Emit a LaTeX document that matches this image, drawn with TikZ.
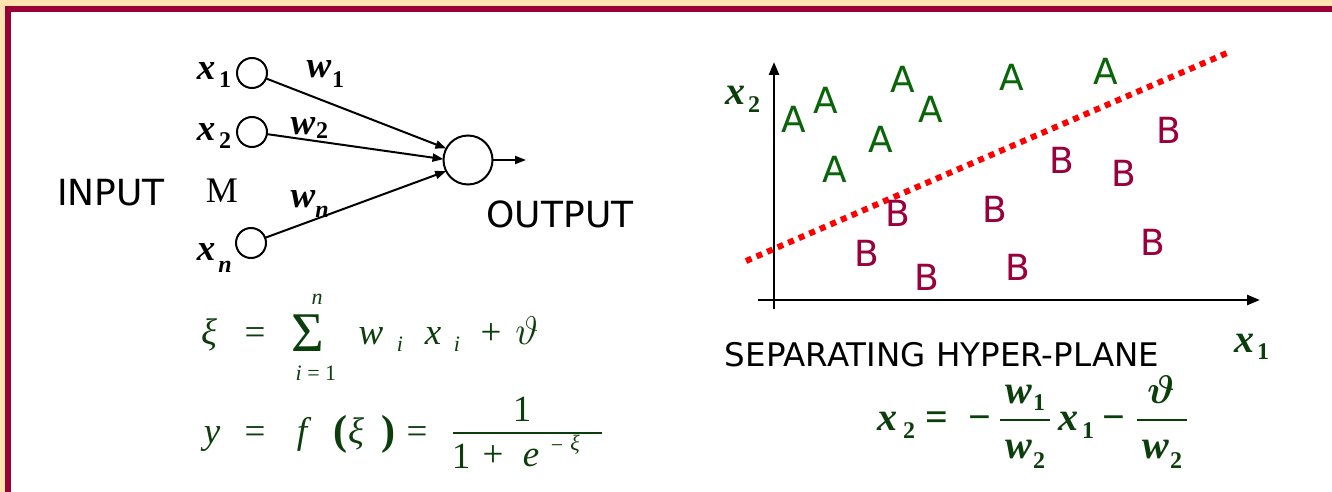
\RequirePackage{fix-cm}
\documentclass[tikz,border=0pt]{standalone}
\usepackage{fontspec}
\setmainfont{Liberation Serif}
\newfontfamily\dvs{DejaVu Sans}
\usetikzlibrary{arrows.meta}
\definecolor{beige}{RGB}{255,228,178}
\definecolor{frame}{RGB}{153,0,51}
\definecolor{agreen}{RGB}{10,100,10}
\definecolor{bred}{RGB}{153,0,60}
\definecolor{eqgreen}{RGB}{12,62,12}
\newcommand\myfs[1]{\fontsize{#1}{#1}\selectfont}
\begin{document}
\begin{tikzpicture}[x=1pt,y=-1pt,
  every node/.style={inner sep=0pt, outer sep=0pt},
  neuron/.style={circle, draw=black, line width=2pt, minimum size=30pt},
  conn/.style={line width=2pt, -{Triangle[length=11pt,width=8pt]}},
  axis/.style={line width=2.5pt, -{Triangle[length=13pt,width=10pt]}},
  lbx/.style={anchor=base, font=\bfseries\itshape\myfs{37}},
  lbs/.style={anchor=base, font=\bfseries\myfs{24}},
  lbsi/.style={anchor=base, font=\bfseries\itshape\myfs{24}},
  word/.style={anchor=base, font=\dvs\myfs{36}},
  ptA/.style={text=agreen, font=\dvs\myfs{36}},
  ptB/.style={text=bred, font=\dvs\myfs{36}},
  ei/.style={anchor=base, text=eqgreen, font=\itshape\myfs{37}},
  er/.style={anchor=base, text=eqgreen, font=\myfs{37}},
  esi/.style={anchor=base, text=eqgreen, font=\itshape\myfs{22}},
  esr/.style={anchor=base, text=eqgreen, font=\myfs{22}},
  par/.style={anchor=base, text=eqgreen, font=\bfseries\myfs{42}},
  bx/.style={anchor=base, text=eqgreen, font=\bfseries\itshape\myfs{40}},
  bs/.style={anchor=base, text=eqgreen, font=\bfseries\myfs{24}},
  br/.style={anchor=base, text=eqgreen, font=\bfseries\myfs{40}},
  bth/.style={anchor=base, text=eqgreen, font=\boldmath\myfs{40}},
  fbar/.style={draw=eqgreen, line width=1.6pt},
  sep/.style={draw=red, line width=6pt, dash pattern=on 6pt off 5.5pt}
]
\useasboundingbox (0,0) rectangle (1332,492);
% frame
\fill[beige] (0,0) rectangle (1332,492);
\fill[white] (11,12) rectangle (1332,492);
\fill[frame] (5,6) rectangle (1332,12);
\fill[frame] (5,6) rectangle (11,492);

% ---------- network ----------
\node[neuron] (in1) at (252,73) {};
\node[neuron] (in2) at (252,132) {};
\node[neuron] (inn) at (251,243) {};
\node[neuron, minimum size=49pt] (out) at (468,160) {};
\coordinate (outtip) at (526,160);
\draw[conn] (in1) -- (out.152);
\draw[conn] (in2) -- (out.178);
\draw[conn] (inn) -- (out.207);
\draw[conn] (out) -- (outtip);

\node[lbx] (x1x) at (206,80) {x};
\node[lbs] (x1s) at (225,88) {1};
\node[lbx] (x2x) at (206,140) {x};
\node[lbs] (x2s) at (225,148) {2};
\node[lbx] (xnx) at (206,260) {x};
\node[lbsi] (xns) at (225,272) {n};
\node[lbx] (w1x) at (319,78) {w};
\node[lbs] (w1s) at (338,88) {1};
\node[lbx] (w2x) at (303,135) {w};
\node[lbs] (w2s) at (322,139) {2};
\node[lbx] (wnx) at (303,207) {w};
\node[lbsi] (wns) at (322,217) {n};
\node[anchor=base, font=\myfs{36}] (dots) at (222,202) {M};
\node[word] (input) at (111,205) {INPUT};
\node[word] (output) at (560,227) {OUTPUT};

% ---------- formula 1 ----------
\node[ei] (a1) at (209,344) {ξ};
\node[er] (a2) at (255,344) {=};
\node[anchor=base, text=eqgreen, font=\myfs{56}] (a3) at (308,351) {Σ};
\node[esi] (a4) at (317,304) {n};
\node[esr] (a5) at (316,380) {\textit{i} = 1};
\node[ei] (a6) at (371,344) {w};
\node[esi] (a7) at (400,351) {i};
\node[ei] (a8) at (433,344) {x};
\node[esi] (a9) at (457,351) {i};
\node[er] (a10) at (491,344) {+};
\node[anchor=base, text=eqgreen, font=\myfs{40}] (a11) at (527,344) {$\vartheta$};

% ---------- formula 2 ----------
\node[ei] (b1) at (212,443) {y};
\node[er] (b2) at (255,443) {=};
\node[ei] (b3) at (302,443) {f};
\node[par] (b4) at (340,444) {(};
\node[ei] (b5) at (356,443) {ξ};
\node[par] (b6) at (388,444) {)};
\node[er] (b7) at (417,443) {=};
\node[er] (b8) at (522,421) {1};
\coordinate (b9l) at (453,433);
\coordinate (b9r) at (602,433);
\draw[fbar] (b9l) -- (b9r);
\node[er] (b10) at (461,468) {1};
\node[er] (b11) at (493,466) {+};
\node[ei] (b12) at (531,466) {e};
\node[esr] (b13) at (557,452) {−};
\node[esi] (b14) at (575,450) {ξ};

% ---------- scatter plot ----------
\coordinate (yb) at (774,309);
\coordinate (yt) at (774,62);
\coordinate (xb) at (758,300);
\coordinate (xt) at (1260,300);
\draw[axis] (yb) -- (yt);
\draw[axis] (xb) -- (xt);
\coordinate (sl) at (746,261);
\coordinate (sr) at (1227,53);
\draw[sep] (sl) -- (sr);

\node[ptA] (A1) at (794,119) {A};
\node[ptA] (A2) at (826,100) {A};
\node[ptA] (A3) at (903,79) {A};
\node[ptA] (A4) at (931,109) {A};
\node[ptA] (A5) at (881,139) {A};
\node[ptA] (A6) at (835,169) {A};
\node[ptA] (A7) at (1012,77) {A};
\node[ptA] (A8) at (1106,71) {A};
\node[ptB] (B1) at (1169,130) {B};
\node[ptB] (B2) at (1062,160) {B};
\node[ptB] (B3) at (1124,173) {B};
\node[ptB] (B4) at (898,213) {B};
\node[ptB] (B5) at (995,209) {B};
\node[ptB] (B6) at (867,253) {B};
\node[ptB] (B7) at (927,277) {B};
\node[ptB] (B8) at (1018,267) {B};
\node[ptB] (B9) at (1153,242) {B};

\node[bx] (ax2x) at (735,105) {x};
\node[bs] (ax2s) at (754,113) {2};
\node[bx] (ax1x) at (1244,352) {x};
\node[bs] (ax1s) at (1263,359) {1};
\node[anchor=base, font=\dvs\myfs{32.5}] (sepl) at (942,366) {SEPARATING HYPER-PLANE};

% ---------- formula 3 ----------
\node[bx] (c1) at (887,430) {x};
\node[bs] (c2) at (909,438) {2};
\node[br] (c3) at (937,430) {=};
\node[br] (c4) at (980,430) {−};
\node[bx] (c5) at (1019,403) {w};
\node[bs] (c6) at (1039,410) {1};
\coordinate (c7l) at (1000,420);
\coordinate (c7r) at (1050,420);
\draw[fbar, line width=2pt] (c7l) -- (c7r);
\node[bx] (c8) at (1019,458) {w};
\node[bs] (c9) at (1039,468) {2};
\node[bx] (c10) at (1068,430) {x};
\node[bs] (c11) at (1088,438) {1};
\node[br] (c12) at (1114,430) {−};
\node[bth] (c13) at (1161,403) {$\vartheta$};
\coordinate (c14l) at (1137,420);
\coordinate (c14r) at (1187,420);
\draw[fbar, line width=2pt] (c14l) -- (c14r);
\node[bx] (c15) at (1156,458) {w};
\node[bs] (c16) at (1176,468) {2};
\end{tikzpicture}
\end{document}
